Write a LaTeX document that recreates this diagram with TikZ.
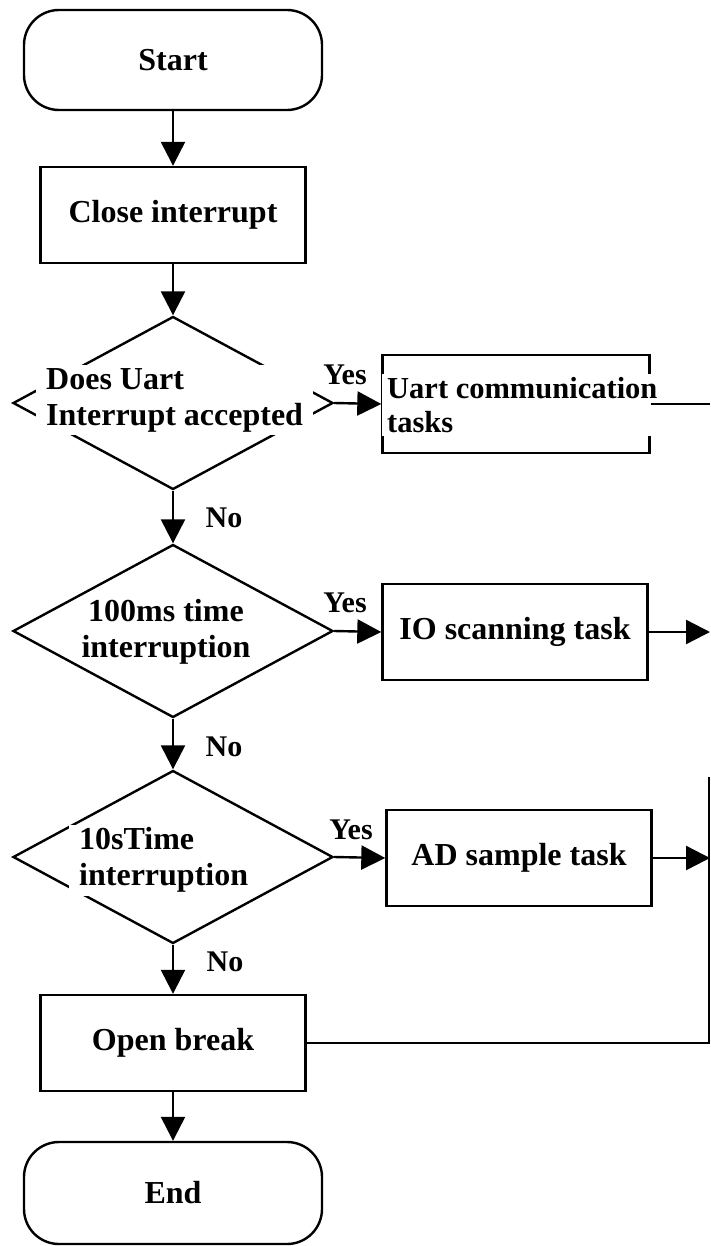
\documentclass[tikz,border=0pt]{standalone}
\usepackage{fontspec}
\setmainfont{Liberation Serif}
\usetikzlibrary{shapes.geometric,arrows.meta}

\begin{document}
\begin{tikzpicture}[x=1pt, y=-1pt, line width=2.4pt,
  every node/.style={font=\fontsize{32}{36}\selectfont\bfseries},
  terminal/.style={draw, rounded corners=35pt, minimum width=298pt, minimum height=100pt},
  procbox/.style={draw, minimum width=265pt, minimum height=96pt},
  decision/.style={draw, diamond, minimum width=320pt, minimum height=173pt, inner sep=0pt},
  gaptext/.style={fill=white, align=left, inner xsep=10pt, inner ysep=3pt},
  flow/.style={-{Triangle[width=24pt,length=24pt]}},
  lbl/.style={font=\fontsize{30}{34}\selectfont\bfseries, inner sep=0pt}]

\useasboundingbox (0,0) rectangle (710,1246);

\node [terminal] (start) at (173,60) {Start};
\node [procbox] (close) at (173,215) {Close interrupt};

\node [decision] (q1) at (173,403) {};
\node [gaptext, anchor=west] (q1txt) at (35,400) {Does Uart\\Interrupt accepted};

\node [decision] (q2) at (173,631) {};
\node [align=center] (q2txt) at (166,632) {100ms time\\interruption};

\node [decision] (q3) at (173,857) {};
\node [gaptext, anchor=west] (q3txt) at (68,860) {10sTime\\interruption};

\node [procbox, minimum width=267pt, minimum height=98pt] (uart) at (516,404) {};
\node [gaptext, anchor=west, inner xsep=5pt, font=\fontsize{30.5}{34}\selectfont\bfseries] (uarttxt) at (381,405) {Uart communication\\tasks};
\node [procbox] (io) at (515,632) {IO scanning task};
\node [procbox] (ad) at (519,858) {AD sample task};

\node [procbox] (open) at (173,1043) {Open break};
\node [terminal, minimum height=102pt] (end) at (173,1193) {End};

\coordinate (uartout) at (710,404);
\coordinate (ioout) at (710,632);
\coordinate (adout) at (710,858);
\coordinate (busbot) at (709,1043);
\coordinate (bustop) at (709,777);

\draw [flow] (start) -- (close);
\draw [flow] (close) -- (q1);
\draw [flow] (q1) -- (q2);
\draw [flow] (q2) -- (q3);
\draw [flow] (q3) -- (open);
\draw [flow] (open) -- (end);

\draw [flow] (q1.east) -- (uart.west);
\draw [flow] (q2.east) -- (io.west);
\draw [flow] (q3.east) -- (ad.west);

\draw (uart.east) -- (uartout);
\draw [flow] (io.east) -- (ioout);
\draw [flow] (ad.east) -- (adout);
\draw (open.east) -- (busbot) -- (bustop);

\node [lbl] (yes1) at (345,375) {Yes};
\node [lbl] (yes2) at (345,603) {Yes};
\node [lbl] (yes3) at (351,830) {Yes};

\node [lbl] (no1) at (224,518) {No};
\node [lbl] (no2) at (224,747) {No};
\node [lbl] (no3) at (225,962) {No};
\end{tikzpicture}
\end{document}
